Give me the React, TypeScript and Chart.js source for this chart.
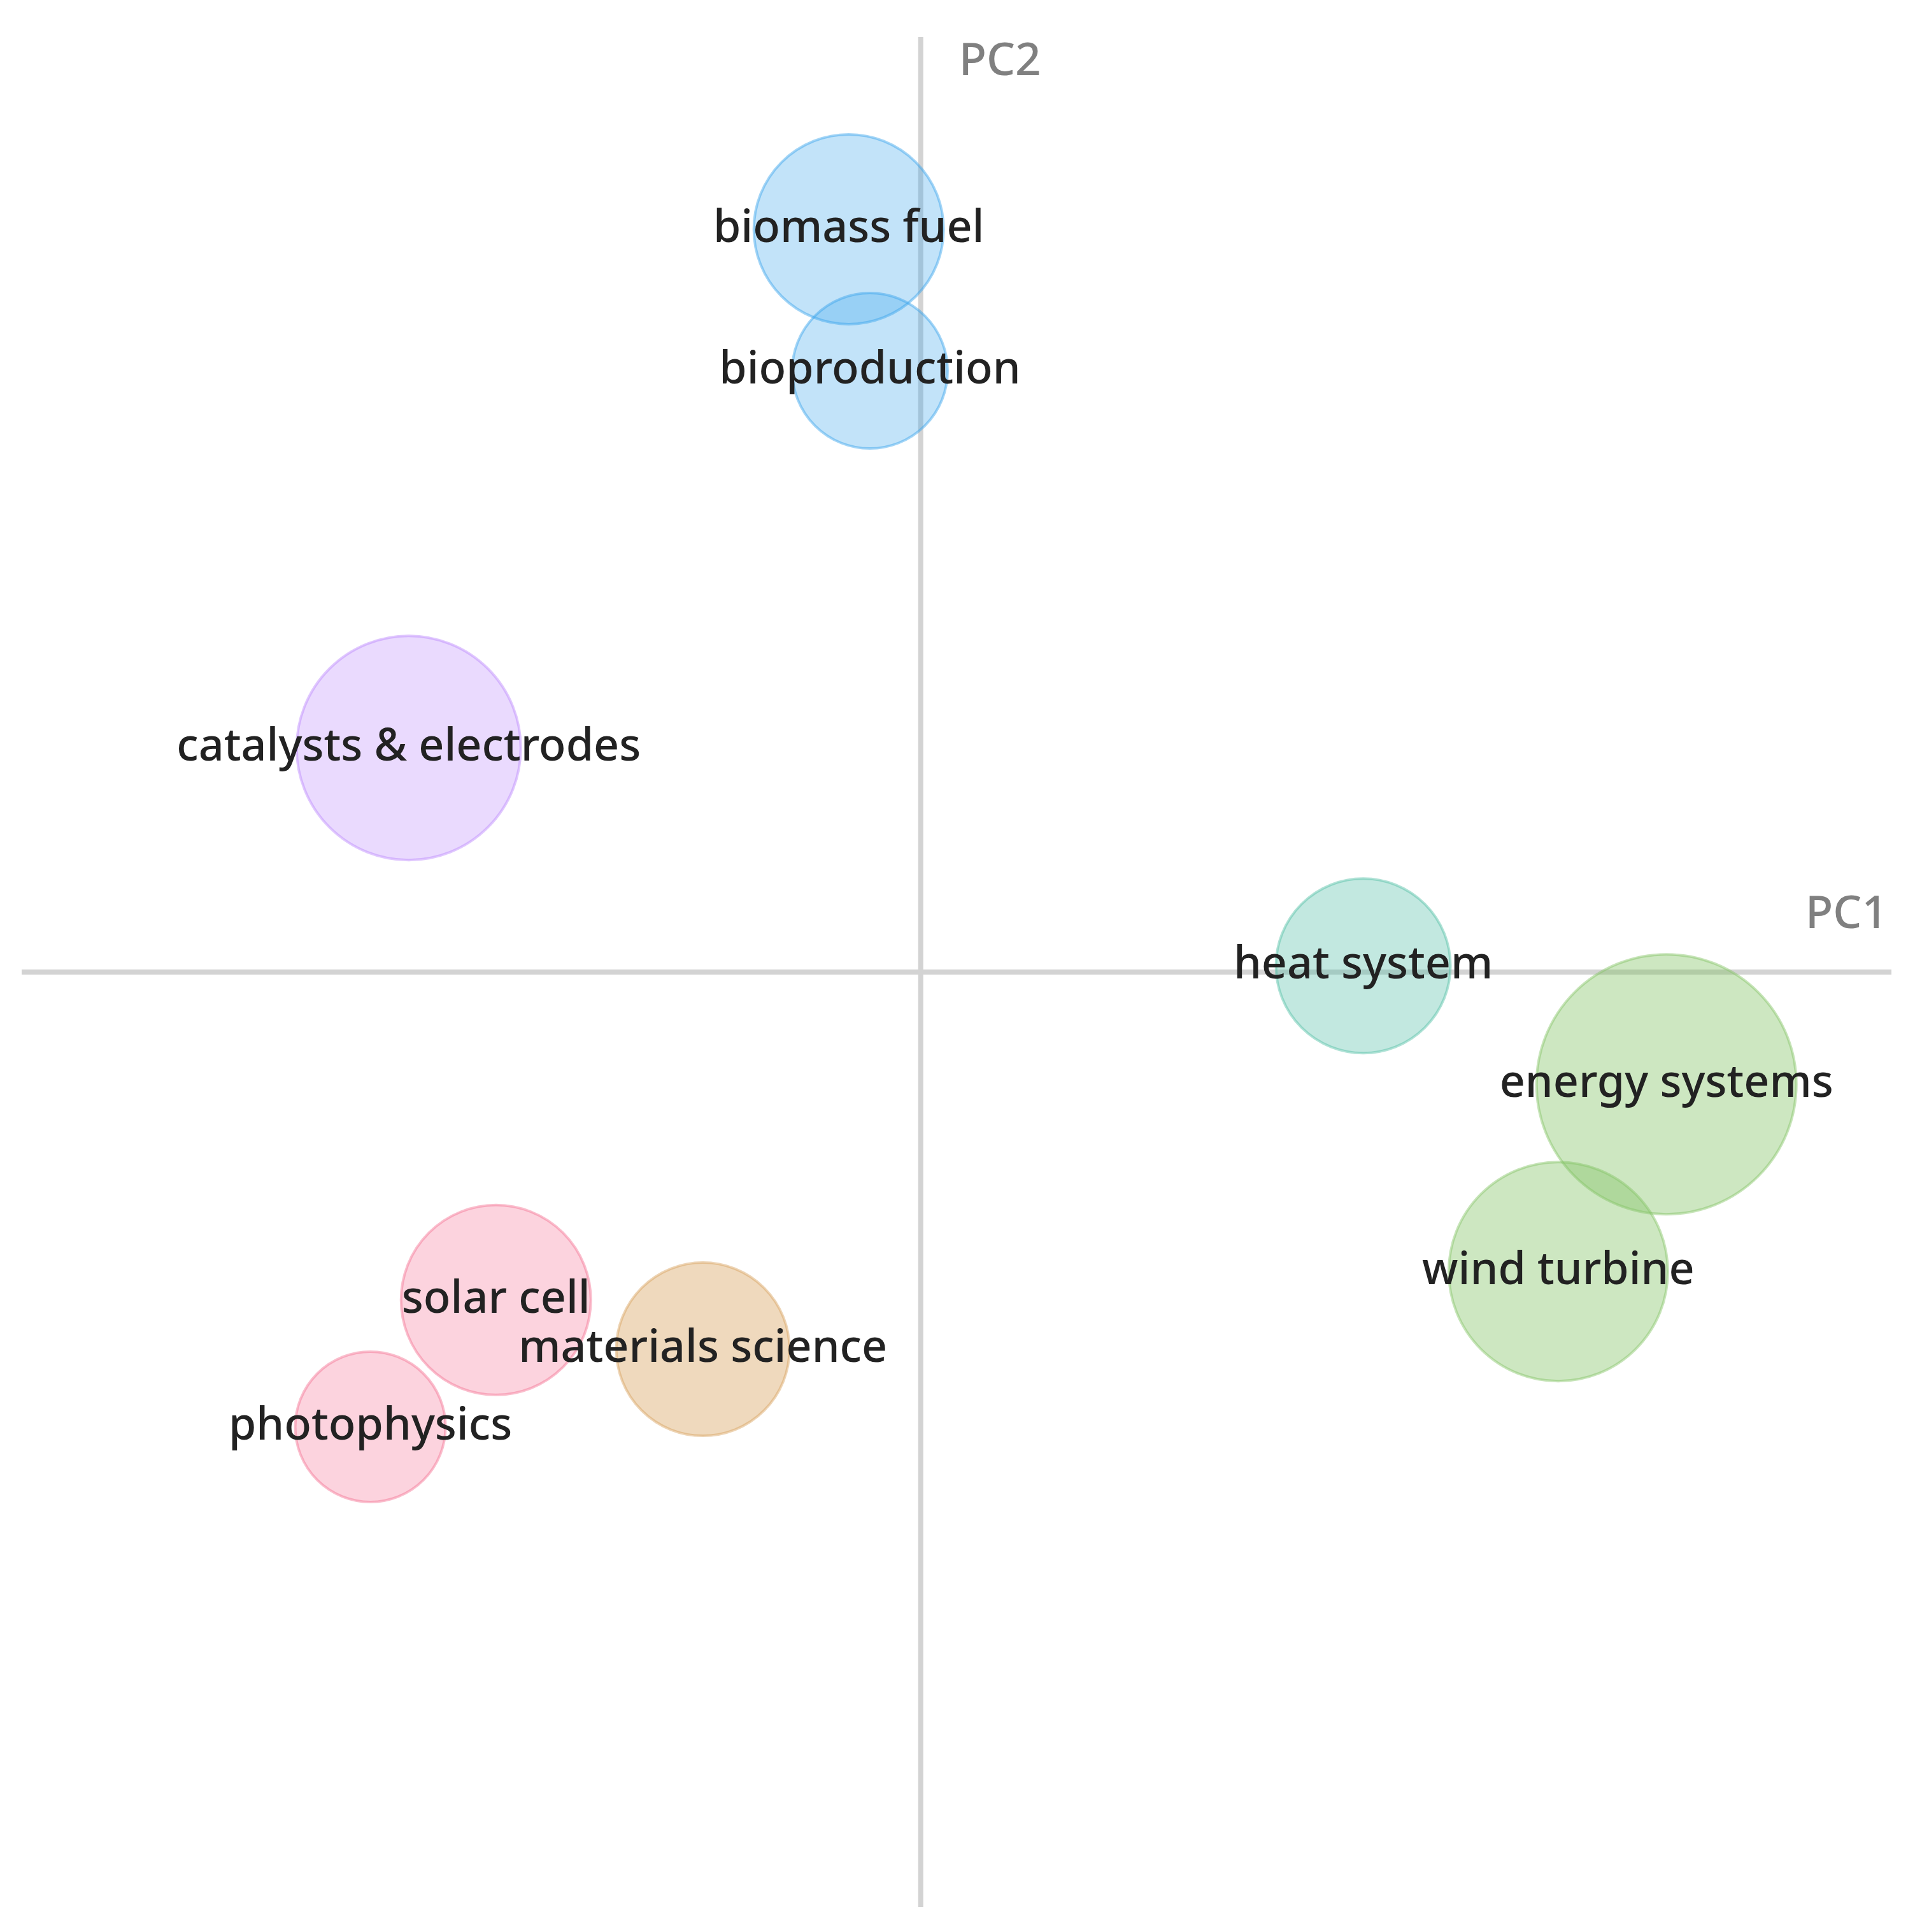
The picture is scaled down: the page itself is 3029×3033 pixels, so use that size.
import React, { useEffect, useRef } from "react";
import { Chart, registerables } from "chart.js";

Chart.register(...registerables);

// ---- data ----
const topics = [
  "biomass fuel",
  "bioproduction",
  "catalysts & electrodes",
  "heat system",
  "energy systems",
  "wind turbine",
  "solar cell",
  "materials science",
  "photophysics",
];
const pc1 = [-0.231, -0.163, -1.643, 1.42, 2.393, 2.046, -1.363, -0.699, -1.766];
const pc2 = [2.383, 1.929, 0.719, 0.02, -0.36, -0.961, -1.052, -1.21, -1.459];
const weights = [14.9, 12.2, 17.6, 13.7, 20.4, 17.2, 14.9, 13.6, 11.8];
const groups = ["bio", "bio", "catalysis", "thermal", "energy", "energy", "photo", "materials", "photo"];
const axisTitles = ["PC1", "PC2"];

const PC1_MIN = -2.885;
const PC1_MAX = 3.115;
const PC2_MIN = -3;
const PC2_MAX = 3;
const RADIUS_SCALE = 10;

const groupColor: Record<string, [number, number, number]> = {
  bio: [54, 162, 235],
  catalysis: [187, 134, 252],
  thermal: [80, 190, 165],
  energy: [130, 195, 100],
  photo: [245, 110, 145],
  materials: [215, 160, 90],
};
const fillAlpha: Record<string, number> = {
  bio: 0.3,
  catalysis: 0.3,
  thermal: 0.35,
  energy: 0.4,
  photo: 0.3,
  materials: 0.4,
};

const rgba = (c: [number, number, number], a: number) => `rgba(${c[0]},${c[1]},${c[2]},${a})`;

const FONT = '"Noto Sans", "Open Sans", sans-serif';

const overlayPlugin = {
  id: "pcaOverlay",
  beforeDatasetsDraw(chart: any) {
    const { ctx, chartArea, scales } = chart;
    const zx = scales.x.getPixelForValue(0);
    const zy = scales.y.getPixelForValue(0);
    ctx.save();
    ctx.strokeStyle = "#d3d3d3";
    ctx.lineWidth = 8;
    ctx.beginPath();
    ctx.moveTo(chartArea.left, zy);
    ctx.lineTo(chartArea.right, zy);
    ctx.moveTo(zx, chartArea.top);
    ctx.lineTo(zx, chartArea.bottom);
    ctx.stroke();
    ctx.restore();
  },
  afterDatasetsDraw(chart: any) {
    const { ctx, chartArea, scales } = chart;
    const zx = scales.x.getPixelForValue(0);
    const zy = scales.y.getPixelForValue(0);
    ctx.save();
    // axis titles
    ctx.fillStyle = "#808080";
    ctx.font = `500 71px ${FONT}`;
    ctx.textBaseline = "alphabetic";
    ctx.textAlign = "right";
    ctx.fillText(axisTitles[0], chartArea.right - 6, zy - 69);
    ctx.textAlign = "left";
    ctx.fillText(axisTitles[1], zx + 60, chartArea.top + 60);
    // bubble labels
    const meta = chart.getDatasetMeta(0);
    ctx.fillStyle = "#222222";
    ctx.font = `500 70px ${FONT}`;
    ctx.textAlign = "center";
    ctx.textBaseline = "middle";
    meta.data.forEach((el: any, i: number) => {
      ctx.fillText(topics[i], el.x, el.y);
    });
    ctx.restore();
  },
};

export default function App() {
  const canvasRef = useRef<HTMLCanvasElement | null>(null);

  useEffect(() => {
    if (!canvasRef.current) return;
    const data = topics.map((_, i) => ({ x: pc1[i], y: pc2[i], r: weights[i] * RADIUS_SCALE }));
    const chart = new Chart(canvasRef.current, {
      type: "bubble",
      data: {
        datasets: [
          {
            label: "topics",
            data,
            backgroundColor: groups.map((g) => rgba(groupColor[g], fillAlpha[g])),
            borderColor: groups.map((g) => rgba(groupColor[g], 0.45)),
            borderWidth: 4,
            hoverRadius: 0,
          },
        ],
      },
      options: {
        animation: false,
        responsive: true,
        maintainAspectRatio: false,
        devicePixelRatio: 1,
        layout: { autoPadding: false, padding: { left: 26, right: 51, top: 50, bottom: 24 } },
        clip: false,
        plugins: {
          legend: { display: false },
          tooltip: { enabled: false },
        },
        scales: {
          x: { type: "linear", min: PC1_MIN, max: PC1_MAX, display: false },
          y: { type: "linear", min: PC2_MIN, max: PC2_MAX, display: false },
        },
      } as any,
      plugins: [overlayPlugin],
    });
    return () => chart.destroy();
  }, []);

  return (
    <div style={{ width: 3013, height: 3010, position: "relative", background: "#fff" }}>
      <canvas ref={canvasRef} />
    </div>
  );
}
